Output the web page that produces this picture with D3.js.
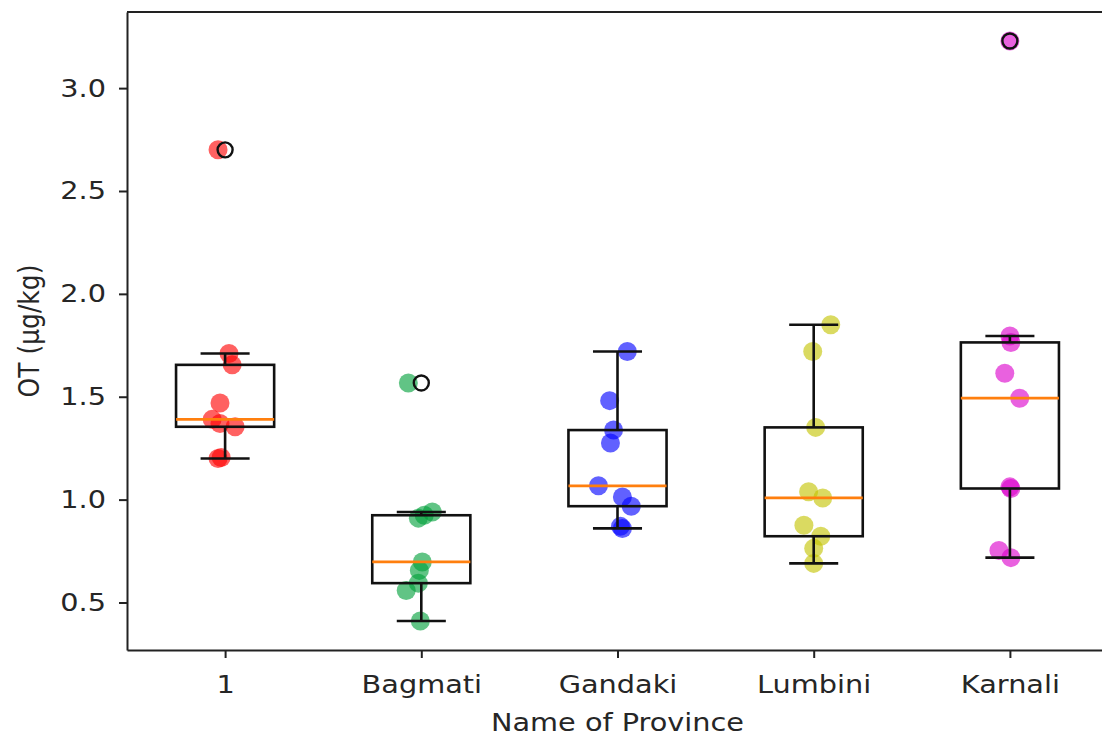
<!DOCTYPE html>
<html>
<head>
<meta charset="utf-8">
<script src="https://cdn.jsdelivr.net/npm/d3@7"></script>
<style>
  body { margin: 0; background: #fff; }
  text { font-family: "DejaVu Sans", sans-serif; fill: #262626; }
</style>
</head>
<body>
<svg id="chart" width="1102" height="742"></svg>
<script>
// provinces along the x axis
var provinces = ["1", "Bagmati", "Gandaki", "Lumbini", "Karnali"];
var pointColors = ["#ff0000", "#00a03a", "#0000ff", "#c4c400", "#dc00cc"];

// OT values per province (µg/kg)
var otProvince1 = [2.70, 1.71, 1.655, 1.47, 1.39, 1.37, 1.354, 1.205, 1.20];
var otBagmati   = [1.567, 0.94, 0.924, 0.91, 0.697, 0.656, 0.594, 0.558, 0.41];
var otGandaki   = [1.72, 1.481, 1.338, 1.275, 1.067, 1.013, 0.968, 0.87, 0.86];
var otLumbini   = [1.85, 1.72, 1.351, 1.038, 1.008, 0.875, 0.822, 0.763, 0.69];
var otKarnali   = [3.229, 1.795, 1.764, 1.614, 1.493, 1.062, 1.054, 0.753, 0.718];

// horizontal jitter of each scatter point (in category units)
var jitProvince1 = [-0.036, 0.02, 0.036, -0.026, -0.066, -0.026, 0.051, -0.02, -0.036];
var jitBagmati   = [-0.066, 0.056, 0.015, -0.015, 0.005, -0.01, -0.015, -0.077, -0.005];
var jitGandaki   = [0.05, -0.04, -0.02, -0.036, -0.097, 0.025, 0.07, 0.015, 0.025];
var jitLumbini   = [0.087, -0.005, 0.01, -0.026, 0.046, -0.05, 0.036, 0, 0];
var jitKarnali   = [0, 0, 0.005, -0.026, 0.05, 0, 0.005, -0.056, 0.005];

var yTicks = [0.5, 1.0, 1.5, 2.0, 2.5, 3.0];

var allValues = [otProvince1, otBagmati, otGandaki, otLumbini, otKarnali];
var allJitter = [jitProvince1, jitBagmati, jitGandaki, jitLumbini, jitKarnali];

var margin = {left: 127, top: 12, bottom: 92};
var width = 981, height = 742 - margin.top - margin.bottom;
var fontSize = 25, stretch = 1.15;   // the picture is a bit wider than tall

var svg = d3.select("#chart");
var g = svg.append("g").attr("transform", "translate(" + margin.left + "," + margin.top + ")");

var x = d3.scaleLinear().domain([0.5, 5.5]).range([0, width]);

var flat = d3.merge(allValues);
var lo = d3.min(flat), hi = d3.max(flat), pad = (hi - lo) * 0.05;
var y = d3.scaleLinear().domain([lo - pad, hi + pad]).range([height, 0]);

// box statistics, matplotlib style (1.5 IQR whiskers)
var boxes = allValues.map(function(vals, i) {
  var s = vals.slice().sort(d3.ascending);
  var q1 = d3.quantile(s, 0.25), med = d3.quantile(s, 0.5), q3 = d3.quantile(s, 0.75);
  var iqr = q3 - q1;
  var inside = s.filter(function(v) { return v >= q1 - 1.5 * iqr && v <= q3 + 1.5 * iqr; });
  return {
    pos: i + 1, q1: q1, med: med, q3: q3,
    wlo: d3.min(inside), whi: d3.max(inside),
    fliers: s.filter(function(v) { return v < q1 - 1.5 * iqr || v > q3 + 1.5 * iqr; })
  };
});

// scatter points first, box drawn over them
allValues.forEach(function(vals, i) {
  g.selectAll(".pt" + i)
    .data(vals)
    .enter().append("circle")
    .attr("cx", function(d, j) { return x(i + 1 + allJitter[i][j]); })
    .attr("cy", function(d) { return y(d); })
    .attr("r", 9.5)
    .attr("fill", pointColors[i])
    .attr("fill-opacity", 0.62);
});

var bw = 0.5;
var bg = g.selectAll(".box").data(boxes).enter().append("g");

bg.append("rect")
  .attr("x", function(d) { return x(d.pos - bw / 2); })
  .attr("y", function(d) { return y(d.q3); })
  .attr("width", x(bw) - x(0))
  .attr("height", function(d) { return y(d.q1) - y(d.q3); })
  .attr("fill", "none").attr("stroke", "#111").attr("stroke-width", 2.6);

bg.append("line")
  .attr("x1", function(d) { return x(d.pos); }).attr("x2", function(d) { return x(d.pos); })
  .attr("y1", function(d) { return y(d.q3); }).attr("y2", function(d) { return y(d.whi); })
  .attr("stroke", "#111").attr("stroke-width", 2.6);
bg.append("line")
  .attr("x1", function(d) { return x(d.pos); }).attr("x2", function(d) { return x(d.pos); })
  .attr("y1", function(d) { return y(d.q1); }).attr("y2", function(d) { return y(d.wlo); })
  .attr("stroke", "#111").attr("stroke-width", 2.6);

["whi", "wlo"].forEach(function(k) {
  bg.append("line")
    .attr("x1", function(d) { return x(d.pos - bw / 4); })
    .attr("x2", function(d) { return x(d.pos + bw / 4); })
    .attr("y1", function(d) { return y(d[k]); })
    .attr("y2", function(d) { return y(d[k]); })
    .attr("stroke", "#111").attr("stroke-width", 2.6);
});

bg.append("line")
  .attr("x1", function(d) { return x(d.pos - bw / 2); })
  .attr("x2", function(d) { return x(d.pos + bw / 2); })
  .attr("y1", function(d) { return y(d.med); })
  .attr("y2", function(d) { return y(d.med); })
  .attr("stroke", "#ff7f0e").attr("stroke-width", 2.8);

bg.each(function(d) {
  d3.select(this).selectAll(".flier")
    .data(d.fliers)
    .enter().append("circle")
    .attr("cx", x(d.pos))
    .attr("cy", function(v) { return y(v); })
    .attr("r", 7.5)
    .attr("fill", "none").attr("stroke", "#111").attr("stroke-width", 2.4);
});

// axes
var yAxis = g.append("g")
  .call(d3.axisLeft(y).tickValues(yTicks).tickFormat(d3.format(".1f"))
    .tickSize(8).tickSizeOuter(0).tickPadding(10));
var xAxis = g.append("g")
  .attr("transform", "translate(0," + height + ")")
  .call(d3.axisBottom(x).tickValues([1, 2, 3, 4, 5])
    .tickFormat(function(d) { return provinces[d - 1]; }).tickSize(8).tickSizeOuter(0));

[yAxis, xAxis].forEach(function(a) {
  a.selectAll("path, line").attr("stroke", "#222").attr("stroke-width", 2);
  a.selectAll("text").style("font-size", fontSize + "px").attr("fill", "#262626");
});

// stretch the horizontal labels around their anchor
yAxis.selectAll(".tick text")
  .attr("transform", "translate(-21,0) scale(" + stretch + ",1)")
  .attr("x", 0);
xAxis.selectAll(".tick text")
  .attr("y", 0).attr("dy", 0)
  .attr("transform", "translate(0,43) scale(" + stretch + ",1)");

// top spine
g.append("line")
  .attr("x1", 0).attr("x2", width).attr("y1", 0).attr("y2", 0)
  .attr("stroke", "#222").attr("stroke-width", 2);

g.append("text")
  .attr("transform", "translate(" + x(3) + "," + (height + 81) + ") scale(" + stretch + ",1)")
  .attr("text-anchor", "middle")
  .style("font-size", fontSize + "px")
  .text("Name of Province");

g.append("text")
  .attr("transform", "translate(-88," + (height / 2) + ") rotate(-90) scale(1," + stretch + ")")
  .attr("text-anchor", "middle")
  .style("font-size", fontSize + "px")
  .text("OT (µg/kg)");
</script>
</body>
</html>
